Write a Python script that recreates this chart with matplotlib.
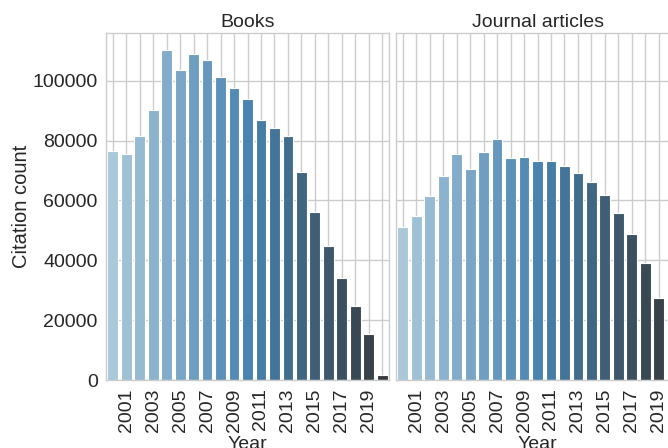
import numpy as np
import matplotlib
matplotlib.use("Agg")
import matplotlib.pyplot as plt
import seaborn as sns

# citation counts per publication year
years = list(range(2000, 2021))
books = [76500, 75400, 81600, 90300, 110400, 103400, 108900, 107000, 101100, 97400,
         93900, 86800, 84100, 81600, 69600, 56200, 44700, 34100, 24800, 15300, 1700]
journal = [51200, 54800, 61500, 68200, 75400, 70400, 76300, 80400, 74000, 74600,
           73000, 73300, 71600, 69100, 66000, 61800, 55900, 48700, 39000, 27300, 20000]
panel_titles = ["Books", "Journal articles"]

sns.set_style("whitegrid")
plt.rcParams['font.family'] = ['Liberation Sans', 'DejaVu Sans']
plt.rcParams['text.color'] = '.15'
plt.rcParams['axes.labelcolor'] = '.15'
plt.rcParams['xtick.color'] = '.15'
plt.rcParams['ytick.color'] = '.15'

# Blues_d palette, desaturated the way seaborn barplot does it
palette = [sns.desaturate(c, 0.75) for c in sns.color_palette("Blues_d", len(years))]

fig = plt.figure(figsize=(6.68, 4.48), dpi=100)
W, H = 668.0, 448.0
ax1 = fig.add_axes([106 / W, (H - 380) / H, 283 / W, 347 / H])
ax2 = fig.add_axes([396 / W, (H - 380) / H, 283 / W, 347 / H], sharey=ax1)

x = np.arange(len(years))
labels = [str(y) if y % 2 == 1 else "" for y in years]

for ax, vals, title in zip([ax1, ax2], [books, journal], panel_titles):
    ax.bar(x, vals, width=0.8, color=palette, edgecolor='white', linewidth=0.8)
    ax.set_xlim(-0.5, len(years) - 0.5)
    ax.set_xticks(x)
    ax.set_xticklabels(labels, rotation=90, fontsize=14)
    ax.tick_params(axis='both', length=0, pad=6)
    ax.tick_params(axis='y', labelsize=14)
    ax.set_title(title, fontsize=14, pad=4)
    ax.set_xlabel("Year", fontsize=14, labelpad=3)
    ax.set_axisbelow(True)
    ax.grid(True, color='.8', linewidth=1)
    for s in ax.spines.values():
        s.set_color('.8')
        s.set_linewidth(1)

ax1.set_ylabel("Citation count", fontsize=14.5, labelpad=1)
plt.setp(ax2.get_yticklabels(), visible=False)

fig.savefig("out.png", dpi=100)
